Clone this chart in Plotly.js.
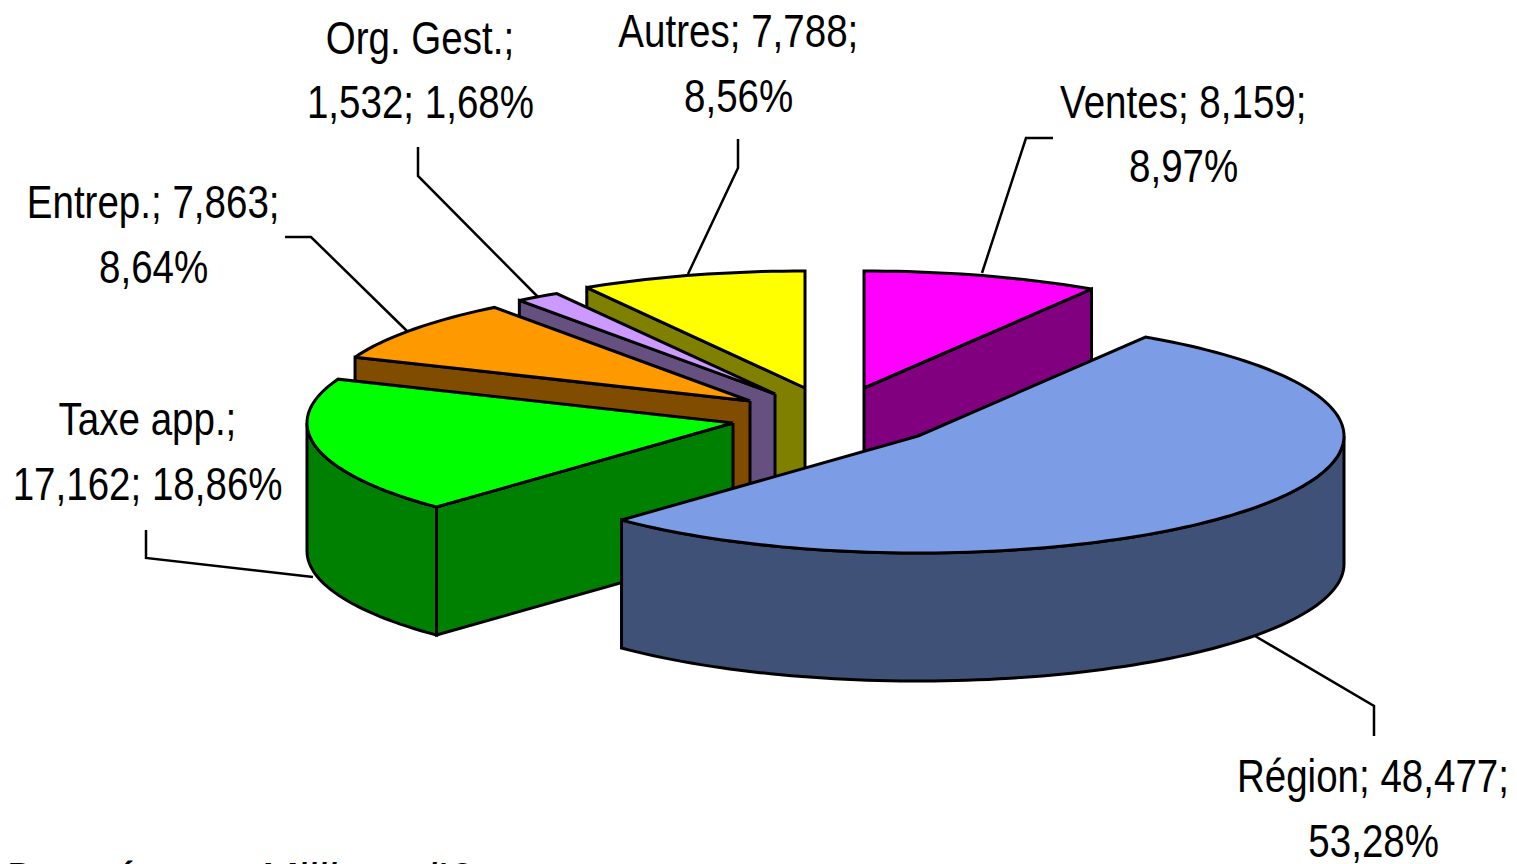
<!DOCTYPE html>
<html>
<head>
<meta charset="utf-8">
<script src="https://cdn.plot.ly/plotly-3.0.1.min.js"></script>
<style>
html,body{margin:0;padding:0;background:#fff;overflow:hidden}
</style>
</head>
<body>
<div id="chart" style="width:1517px;height:864px"></div>
<script>
// Chart data
const categories = ["Ventes", "Région", "Taxe app.", "Entrep.", "Org. Gest.", "Autres"];
const values = [8.159, 48.477, 17.162, 7.863, 1.532, 7.788];
const valueLabels = ["8,159", "48,477", "17,162", "7,863", "1,532", "7,788"];
const percentLabels = ["8,97%", "53,28%", "18,86%", "8,64%", "1,68%", "8,56%"];
const topColors = ["#FF00FF", "#7C9CE6", "#00FF00", "#FF9900", "#CC99FF", "#FFFF00"];
const sideColors = ["#800080", "#3F5176", "#008000", "#804C00", "#665080", "#808000"];

// 3D projection geometry (pixels on the page-sized axes)
const RX = 426, RY = 117, DEPTH = 128;
const centreX = [864, 918, 733, 750, 775, 805];
const centreY = [388, 436, 423, 401, 394, 388];
const drawOrder = [0, 5, 4, 3, 2, 1];

// Label placement
const labelLines = [
  ["Ventes; 8,159;", "8,97%"],
  ["Région; 48,477;", "53,28%"],
  ["Taxe app.;", "17,162; 18,86%"],
  ["Entrep.; 7,863;", "8,64%"],
  ["Org. Gest.;", "1,532; 1,68%"],
  ["Autres; 7,788;", "8,56%"]
];
const labelX = [1183, 1373, 147, 153, 420, 738];
const labelY = [[101, 165], [775, 840], [418, 483], [201, 266], [37, 101], [30, 95]];
const leaderX = [[1053, 1026, 982], [1374, 1374, 1255], [146, 146, 313], [285, 311, 407], [418, 418, 538], [738, 738, 688]];
const leaderY = [[138, 138, 273], [736, 706, 636], [530, 558, 577], [237, 237, 331], [147, 176, 297], [139, 168, 274]];

const total = values.reduce((a, b) => a + b, 0);
const point = (i, deg, drop) => {
  const t = deg * Math.PI / 180;
  return [centreX[i] + RX * Math.sin(t), centreY[i] - RY * Math.cos(t) + drop];
};
const arc = (i, from, to, drop) => {
  const out = [], n = Math.max(2, Math.ceil(Math.abs(to - from) / 1.5));
  for (let k = 0; k <= n; k++) out.push(point(i, from + (to - from) * k / n, drop));
  return out;
};
const poly = (pts, fill) => ({
  type: "scatter", mode: "lines", hoverinfo: "skip", showlegend: false,
  x: pts.map(p => p[0]), y: pts.map(p => p[1]),
  fill: "toself", fillcolor: fill, line: {color: "#000", width: 3, simplify: false}
});

let start = 0;
const starts = [], ends = [];
values.forEach((v, i) => { starts[i] = start; start += v / total * 360; ends[i] = start; });

const traces = [];
drawOrder.forEach(i => {
  const a = starts[i], b = ends[i];
  const cx = centreX[i], cy = centreY[i];
  // straight cut faces turned towards the viewer
  if (i === 0) {
    const e = point(i, b, 0), f = point(i, b, DEPTH);
    traces.push(poly([[cx, cy], e, f, [cx, cy + DEPTH], [cx, cy]], sideColors[i]));
  } else if (i !== 1) {
    const e = point(i, a, 0), f = point(i, a, DEPTH);
    traces.push(poly([[cx, cy], e, f, [cx, cy + DEPTH], [cx, cy]], sideColors[i]));
  }
  // outer rim where it faces the viewer (90deg to 270deg)
  const lo = Math.max(a, 90), hi = Math.min(b, 270);
  if (hi > lo) {
    const upper = arc(i, lo, hi, 0), lower = arc(i, hi, lo, DEPTH);
    traces.push(poly(upper.concat(lower, [upper[0]]), sideColors[i]));
  }
  // top face
  const top = [[cx, cy]].concat(arc(i, a, b, 0), [[cx, cy]]);
  traces.push(poly(top, topColors[i]));
});

// leader lines
leaderX.forEach((xs, i) => traces.push({
  type: "scatter", mode: "lines", hoverinfo: "skip", showlegend: false,
  x: xs, y: leaderY[i], line: {color: "#000", width: 2.5}
}));

const labelFont = {family: "'Liberation Sans', Arial, sans-serif", size: 47, color: "#000"};
const annotations = [];
labelLines.forEach((lines, i) => lines.forEach((t, j) => annotations.push({
  x: labelX[i], y: labelY[i][j], xref: "x", yref: "y", text: t, showarrow: false,
  xanchor: "center", yanchor: "middle", font: labelFont
})));
annotations.push({
  x: 1, y: 851, xref: "x", yref: "y", text: "<i>Données en Milliers d'€</i>", showarrow: false,
  xanchor: "left", yanchor: "top",
  font: {family: "'Liberation Sans', Arial, sans-serif", size: 45, color: "#000"}
});

Plotly.newPlot("chart", traces, {
  width: 1517, height: 864,
  margin: {l: 0, r: 0, t: 0, b: 0},
  paper_bgcolor: "#fff", plot_bgcolor: "#fff",
  showlegend: false,
  xaxis: {range: [0, 1517], visible: false, fixedrange: true},
  yaxis: {range: [864, 0], visible: false, fixedrange: true},
  annotations
}, {displayModeBar: false, staticPlot: true}).then(gd => {
  // The reference's label type is a horizontally condensed Arial
  gd.querySelectorAll(".annotation-text").forEach(el => {
    if (el.textContent.indexOf("Données") !== -1) return;
    el.style.transformBox = "fill-box";
    el.style.transformOrigin = "center";
    el.style.transform = "scaleX(0.82)";
  });
});
</script>
</body>
</html>
